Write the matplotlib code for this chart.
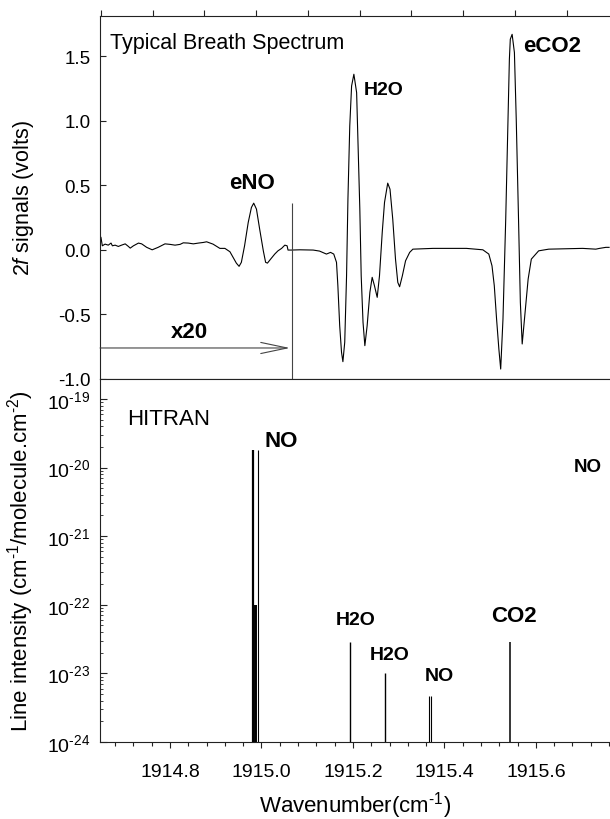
import numpy as np
import matplotlib
matplotlib.use("Agg")
import matplotlib.pyplot as plt
from matplotlib.ticker import MultipleLocator, LogLocator, NullFormatter

plt.rcParams['font.family'] = 'Liberation Sans'
plt.rcParams['mathtext.fontset'] = 'custom'
plt.rcParams['mathtext.rm'] = 'Liberation Sans'
plt.rcParams['mathtext.it'] = 'Liberation Sans:italic'
plt.rcParams['mathtext.bf'] = 'Liberation Sans:bold'
plt.rcParams['axes.unicode_minus'] = False

# Espectro de aliento (senal 2f, volts)
breath_wn = [1914.649, 1914.652, 1914.658, 1914.665, 1914.671, 1914.674, 1914.680, 1914.687,
             1914.694, 1914.702, 1914.709, 1914.713, 1914.720, 1914.731, 1914.738, 1914.749,
             1914.761, 1914.774, 1914.789, 1914.800, 1914.811, 1914.822, 1914.829, 1914.840,
             1914.851, 1914.862, 1914.873, 1914.880, 1914.894, 1914.909, 1914.920, 1914.931,
             1914.938, 1914.945, 1914.951, 1914.956, 1914.963, 1914.971, 1914.978, 1914.983,
             1914.989, 1914.996, 1915.004, 1915.009, 1915.013, 1915.020, 1915.029, 1915.036,
             1915.044, 1915.051, 1915.056, 1915.058, 1915.065, 1915.084, 1915.113, 1915.127,
             1915.142, 1915.151, 1915.158, 1915.164, 1915.167, 1915.171, 1915.175, 1915.178,
             1915.182, 1915.186, 1915.189, 1915.193, 1915.197, 1915.202, 1915.208, 1915.211,
             1915.215, 1915.218, 1915.222, 1915.226, 1915.231, 1915.237, 1915.242, 1915.247,
             1915.253, 1915.258, 1915.264, 1915.269, 1915.276, 1915.281, 1915.287, 1915.293,
             1915.298, 1915.302, 1915.308, 1915.315, 1915.324, 1915.331, 1915.375, 1915.448,
             1915.484, 1915.497, 1915.504, 1915.509, 1915.514, 1915.519, 1915.523, 1915.528,
             1915.534, 1915.539, 1915.542, 1915.544, 1915.548, 1915.553, 1915.557, 1915.562,
             1915.566, 1915.570, 1915.575, 1915.583, 1915.590, 1915.606, 1915.628, 1915.702,
             1915.731, 1915.739, 1915.753, 1915.760]
breath_signal = [0.096, 0.031, 0.044, 0.036, 0.052, 0.031, 0.036, 0.026,
                 0.036, 0.046, 0.026, 0.013, 0.031, 0.052, 0.046, 0.019,
                 0.000, 0.019, 0.046, 0.042, 0.036, 0.042, 0.054, 0.052,
                 0.046, 0.052, 0.057, 0.062, 0.044, 0.011, 0.011, -0.015,
                 -0.059, -0.103, -0.128, -0.097, 0.031, 0.212, 0.328, 0.361,
                 0.315, 0.160, -0.008, -0.097, -0.103, -0.072, -0.033, -0.008,
                 0.011, 0.036, 0.031, -0.002, -0.002, 0.000, -0.002, -0.010,
                 -0.033, -0.020, -0.033, -0.097, -0.278, -0.588, -0.794, -0.866,
                 -0.716, -0.201, 0.392, 0.959, 1.268, 1.359, 1.217, 0.831,
                 0.315, -0.201, -0.561, -0.742, -0.588, -0.329, -0.213, -0.278,
                 -0.368, -0.201, 0.135, 0.367, 0.516, 0.469, 0.237, -0.072,
                 -0.252, -0.286, -0.201, -0.085, -0.020, 0.005, 0.011, 0.011,
                 0.000, -0.033, -0.124, -0.278, -0.536, -0.768, -0.923, -0.536,
                 0.238, 1.011, 1.475, 1.630, 1.668, 1.527, 1.011, 0.237,
                 -0.407, -0.729, -0.536, -0.227, -0.072, -0.008, 0.005, 0.011,
                 0.005, 0.011, 0.019, 0.019]

# Lineas HITRAN (cm-1/molecule.cm-2)
hitran_wn = [1914.9817, 1914.9859, 1914.9887, 1914.9920, 1915.193, 1915.269,
             1915.3669, 1915.3712, 1915.544]
hitran_S = [1.77e-20, 1.0e-22, 1.0e-22, 1.77e-20, 2.9e-23, 1.0e-23,
            4.7e-24, 4.7e-24, 2.9e-23]
line_widths = [1.6, 1.4, 1.4, 0.8, 1.0, 1.0, 0.8, 0.8, 1.1]

x20_end = 1915.062
x20_level = -0.76
boundary_wn = 1915.066
boundary_top = 0.361

xmin, xmax = 1914.647, 1915.762

fig = plt.figure(figsize=(6.1, 8.2), dpi=100)
ax1 = fig.add_axes([0.164, 0.5366, 0.836, 0.4427])
ax2 = fig.add_axes([0.164, 0.0939, 0.836, 0.4427])

spine_color = '#222222'
for ax in (ax1, ax2):
    ax.spines['right'].set_visible(False)
    for s in ('left', 'top', 'bottom'):
        ax.spines[s].set_color(spine_color)
        ax.spines[s].set_linewidth(0.8)
    ax.set_xlim(xmin, xmax)

# Grafica superior
ax1.plot(breath_wn, breath_signal, color='black', lw=0.8)
ax1.set_ylim(-1.0, 1.81)
ax1.set_yticks([-1.0, -0.5, 0.0, 0.5, 1.0, 1.5])
ax1.set_yticklabels(['-1.0', '-0.5', '0.0', '0.5', '1.0', '1.5'])
ax1.set_xticks(1914.649 + 0.1131 * np.arange(10))
ax1.tick_params(axis='x', which='both', top=True, bottom=True, direction='out',
                length=4, width=0.8, labelbottom=False, color=spine_color)
ax1.tick_params(axis='y', direction='in', length=4, width=0.8, labelsize=13.5,
                pad=7, color=spine_color)
ax1.set_ylabel(r'2$f$ signals (volts)', fontsize=15.5)
ax1.yaxis.set_label_coords(-0.125, 0.5)

ax1.vlines(boundary_wn, -1.0, boundary_top, color='#444444', lw=0.8)
ax1.annotate('', xy=(x20_end, x20_level), xytext=(xmin, x20_level),
             arrowprops=dict(arrowstyle='->,head_length=1.9,head_width=0.4',
                             color='#444444', lw=0.8, mutation_scale=10,
                             shrinkA=0, shrinkB=0))
ax1.text(1914.669, 1.606, 'Typical Breath Spectrum', fontsize=15.5, ha='left', va='center')
ax1.text(1914.979, 0.524, 'eNO', fontsize=16, fontweight='bold', ha='center', va='center')
ax1.text(1915.267, 1.243, 'H2O', fontsize=14, fontweight='bold', ha='center', va='center')
ax1.text(1915.636, 1.583, 'eCO2', fontsize=16, fontweight='bold', ha='center', va='center')
ax1.text(1914.843, -0.636, 'x20', fontsize=16, fontweight='bold', ha='center', va='center')

# Grafica inferior (HITRAN)
ax2.set_yscale('log')
ax2.set_ylim(1e-24, 10 ** -18.71)
ax2.vlines(hitran_wn, 1e-24, hitran_S, colors='black', linewidths=line_widths)
ax2.yaxis.set_minor_locator(LogLocator(base=10, subs=np.arange(2, 10), numticks=10))
ax2.yaxis.set_minor_formatter(NullFormatter())
ax2.set_yticks([1e-24, 1e-23, 1e-22, 1e-21, 1e-20, 1e-19])
ax2.set_yticklabels([r'10$^{\text{-%d}}$' % k for k in [24, 23, 22, 21, 20, 19]])
ax2.xaxis.set_major_locator(MultipleLocator(0.2))
ax2.xaxis.set_minor_locator(MultipleLocator(0.04))
ax2.xaxis.set_major_formatter(plt.FuncFormatter(lambda v, p: '%.1f' % v))
ax2.tick_params(axis='x', which='major', direction='out', length=4, width=0.8,
                labelsize=14, pad=11, color=spine_color)
ax2.tick_params(axis='x', which='minor', direction='out', length=3, width=0.8, color=spine_color)
ax2.tick_params(axis='y', which='major', direction='in', length=5, width=0.8,
                labelsize=14, pad=7, color=spine_color)
ax2.tick_params(axis='y', which='minor', direction='in', length=2.5, width=0.6, color=spine_color)
ax2.set_ylabel(r'Line intensity (cm$^{\text{-1}}$/molecule.cm$^{\text{-2}}$)', fontsize=16)
ax2.yaxis.set_label_coords(-0.125, 0.5)
ax2.set_xlabel(r'Wavenumber(cm$^{\text{-1}}$)', fontsize=16)
ax2.xaxis.set_label_coords(0.5, -0.13)

ax2.text(1914.706, 5.1e-20, 'HITRAN', fontsize=16, ha='left', va='center')
ax2.text(1915.044, 2.5e-20, 'NO', fontsize=16, fontweight='bold', ha='center', va='center')
ax2.text(1915.713, 1.02e-20, 'NO', fontsize=13.5, fontweight='bold', ha='center', va='center')
ax2.text(1915.206, 6.2e-23, 'H2O', fontsize=14, fontweight='bold', ha='center', va='center')
ax2.text(1915.280, 1.9e-23, 'H2O', fontsize=14, fontweight='bold', ha='center', va='center')
ax2.text(1915.389, 9.3e-24, 'NO', fontsize=14, fontweight='bold', ha='center', va='center')
ax2.text(1915.551, 6.9e-23, 'CO2', fontsize=16, fontweight='bold', ha='center', va='center')

plt.savefig('out.png', dpi=100)
plt.close()
